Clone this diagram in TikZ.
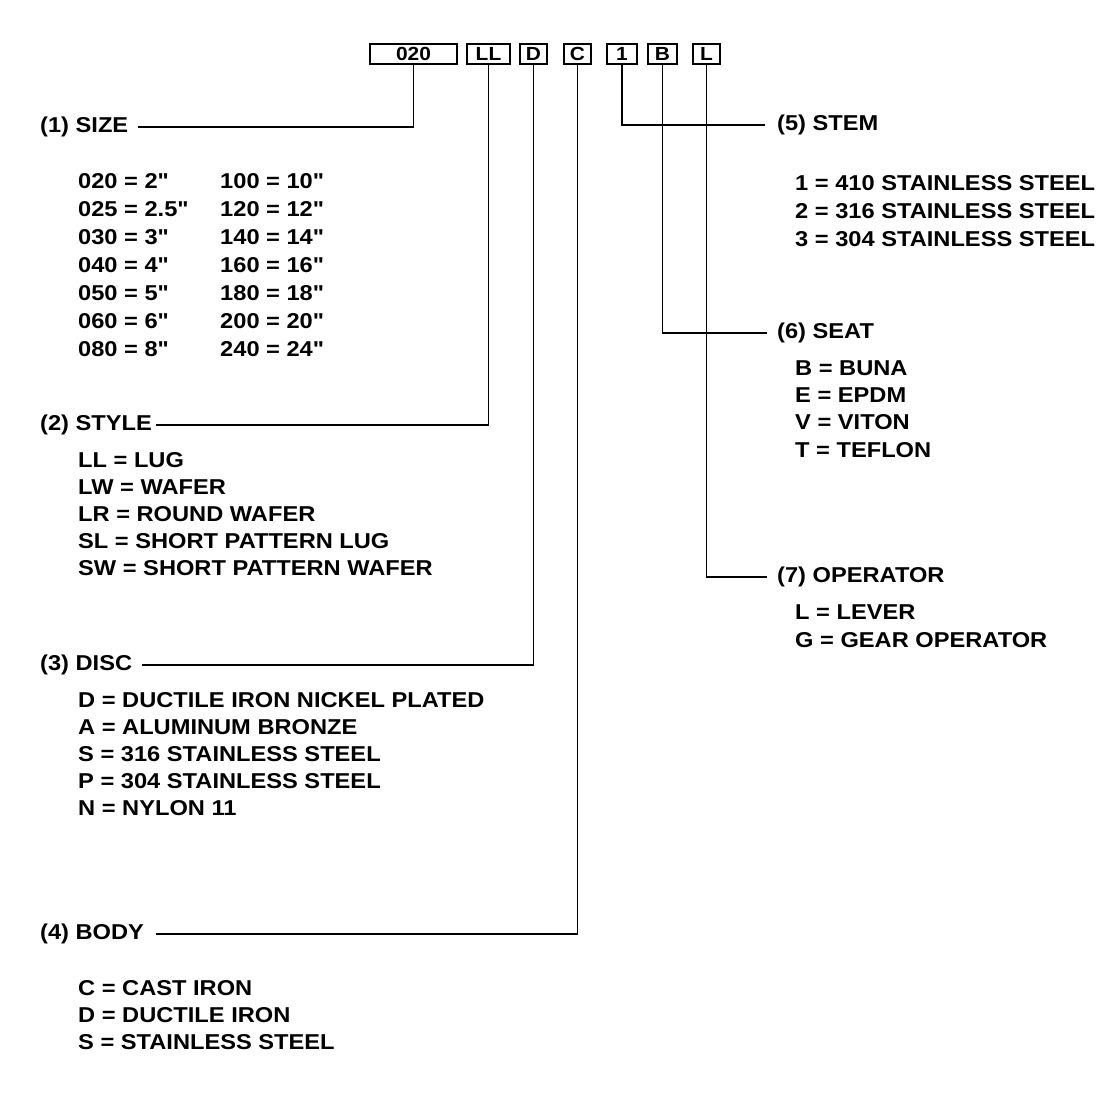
\documentclass[tikz,border=0pt]{standalone}
\usepackage{fontspec}
\setmainfont{Liberation Sans}[FakeStretch=1.1]
\newfontfamily\lblfont{Liberation Sans}[FakeStretch=1.1]
\begin{document}
\begin{tikzpicture}[x=1pt,y=-1pt,
  txt/.style={anchor=base west, inner sep=0pt, font=\lblfont\bfseries\fontsize{21.5}{21.5}\selectfont},
  codebox/.style={draw, line width=2pt, inner sep=0pt, minimum height=20pt, font=\lblfont\bfseries\fontsize{19}{19}\selectfont},
  conn/.style={line width=1.6pt}]
\useasboundingbox (0,0) rectangle (1110,1112);
\fill[white] (0,0) rectangle (1110,1112);
% code boxes
\node[codebox, minimum width=87pt] (b020) at (413.5,54) {020};
\node[codebox, minimum width=43pt] (bLL) at (488.5,54) {LL};
\node[codebox, minimum width=27pt] (bD) at (533.5,54) {D};
\node[codebox, minimum width=27pt] (bC) at (577.5,54) {C};
\node[codebox, minimum width=30pt] (b1) at (622,54) {1};
\node[codebox, minimum width=29pt] (bB) at (662.5,54) {B};
\node[codebox, minimum width=27pt] (bL) at (706.5,54) {L};
% (1) SIZE
\node[txt] (size) at (40,132.5) {(1) SIZE};
\node[txt] (s1) at (78,188.5) {020 = 2"};
\node[txt] (s2) at (78,216.5) {025 = 2.5"};
\node[txt] (s3) at (78,244.5) {030 = 3"};
\node[txt] (s4) at (78,272.5) {040 = 4"};
\node[txt] (s5) at (78,300.5) {050 = 5"};
\node[txt] (s6) at (78,328.5) {060 = 6"};
\node[txt] (s7) at (78,356.5) {080 = 8"};
\node[txt] (t1) at (220,188.5) {100 = 10"};
\node[txt] (t2) at (220,216.5) {120 = 12"};
\node[txt] (t3) at (220,244.5) {140 = 14"};
\node[txt] (t4) at (220,272.5) {160 = 16"};
\node[txt] (t5) at (220,300.5) {180 = 18"};
\node[txt] (t6) at (220,328.5) {200 = 20"};
\node[txt] (t7) at (220,356.5) {240 = 24"};
% (2) STYLE
\node[txt] (style) at (40,430.5) {(2) STYLE};
\node[txt] (st1) at (78,467.5) {LL = LUG};
\node[txt] (st2) at (78,494.5) {LW = WAFER};
\node[txt] (st3) at (78,521.5) {LR = ROUND WAFER};
\node[txt] (st4) at (78,548.5) {SL = SHORT PATTERN LUG};
\node[txt] (st5) at (78,575.5) {SW = SHORT PATTERN WAFER};
% (3) DISC
\node[txt] (disc) at (40,670.5) {(3) DISC};
\node[txt] (d1) at (78,707.5) {D = DUCTILE IRON NICKEL PLATED};
\node[txt] (d2) at (78,734.5) {A = ALUMINUM BRONZE};
\node[txt] (d3) at (78,761.5) {S = 316 STAINLESS STEEL};
\node[txt] (d4) at (78,788.5) {P = 304 STAINLESS STEEL};
\node[txt] (d5) at (78,815.5) {N = NYLON 11};
% (4) BODY
\node[txt] (body) at (40,939.5) {(4) BODY};
\node[txt] (c1) at (78,995.5) {C = CAST IRON};
\node[txt] (c2) at (78,1022.5) {D = DUCTILE IRON};
\node[txt] (c3) at (78,1049.5) {S = STAINLESS STEEL};
% (5) STEM
\node[txt] (stem) at (777,130.5) {(5) STEM};
\node[txt] (m1) at (795,190.5) {1 = 410 STAINLESS STEEL};
\node[txt] (m2) at (795,218.5) {2 = 316 STAINLESS STEEL};
\node[txt] (m3) at (795,246.5) {3 = 304 STAINLESS STEEL};
% (6) SEAT
\node[txt] (seat) at (777,338.5) {(6) SEAT};
\node[txt] (e1) at (795,375.5) {B = BUNA};
\node[txt] (e2) at (795,402.5) {E = EPDM};
\node[txt] (e3) at (795,429.5) {V = VITON};
\node[txt] (e4) at (795,457.5) {T = TEFLON};
% (7) OPERATOR
\node[txt] (oper) at (777,582.5) {(7) OPERATOR};
\node[txt] (o1) at (795,619.5) {L = LEVER};
\node[txt] (o2) at (795,647.5) {G = GEAR OPERATOR};
% connectors
\draw[conn] (b020.south) |- ([xshift=10pt]size.east);
\draw[conn] (bLL.south) |- ([xshift=4pt]style.east);
\draw[conn] (bD.south) |- ([xshift=10pt]disc.east);
\draw[conn] (bC.south) |- ([xshift=12pt]body.east);
\draw[conn] (b1.south) |- ([xshift=-12pt]stem.west);
\draw[conn] (bB.south) |- ([xshift=-10pt]seat.west);
\draw[conn] (bL.south) |- ([xshift=-10pt]oper.west);
\end{tikzpicture}
\end{document}
